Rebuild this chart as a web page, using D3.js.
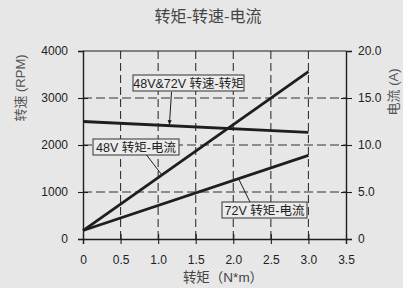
<!DOCTYPE html>
<html>
<head>
<meta charset="utf-8">
<script src="https://cdn.jsdelivr.net/npm/d3@7"></script>
<style>
  body { margin: 0; background: #e7e7e8; }
  svg { display: block; }
  text { font-family: "Liberation Sans", Arial, sans-serif; }
  .cjk { font-family: "Noto Sans CJK SC", sans-serif; }
</style>
</head>
<body>
<div id="chart"></div>
<script>
// data
var torque = [0, 3.0];
var speed = [2500, 2270];          // rpm, 48V & 72V
var current48 = [0.9, 17.8];       // A
var current72 = [0.9, 8.9];        // A

var xTicks = [0, 0.5, 1.0, 1.5, 2.0, 2.5, 3.0, 3.5];
var xTickLabels = ["0", "0.5", "1.0", "1.5", "2.0", "2.5", "3.0", "3.5"];
var speedTicks = [0, 1000, 2000, 3000, 4000];
var currentTicks = [0, 5, 10, 15, 20];
var currentTickLabels = ["0", "5.0", "10.0", "15.0", "20.0"];

var svgWidth = 403;
var svgHeight = 288;

var margin = { top: 51, bottom: 49, left: 83, right: 57 };
var width = svgWidth - margin.left - margin.right;
var height = svgHeight - margin.top - margin.bottom;

var svg = d3.select("#chart")
    .append("svg")
    .attr("width", svgWidth)
    .attr("height", svgHeight);

var g = svg.append("g")
    .attr("transform", `translate(${margin.left}, ${margin.top})`);

// scales
var x = d3.scaleLinear().domain([0, 3.5]).range([0, width]);
var yL = d3.scaleLinear().domain([0, 4000]).range([height, 0]);
var yR = d3.scaleLinear().domain([0, 20]).range([height, 0]);

var ink = "#1e1e1e";

// dashed grid
g.selectAll(".vgrid")
    .data(xTicks.slice(1, -1))
    .enter().append("line")
    .attr("x1", d => x(d)).attr("x2", d => x(d))
    .attr("y1", 0).attr("y2", height)
    .attr("stroke", "#333").attr("stroke-width", 1.1)
    .attr("stroke-dasharray", "8,4");

g.selectAll(".hgrid")
    .data(speedTicks.slice(1, -1))
    .enter().append("line")
    .attr("x1", 0).attr("x2", width)
    .attr("y1", d => yL(d)).attr("y2", d => yL(d))
    .attr("stroke", "#333").attr("stroke-width", 1.1)
    .attr("stroke-dasharray", "9,4");

// top border
g.append("line")
    .attr("x1", 0).attr("x2", width)
    .attr("y1", 0).attr("y2", 0)
    .attr("stroke", ink).attr("stroke-width", 1.2);

// axes
function styleAxis(sel, side) {
    sel.select(".domain").attr("stroke", ink).attr("stroke-width", 1.4);
    sel.selectAll(".tick line").attr("stroke", ink).attr("stroke-width", 1.1);
    sel.selectAll(".tick text")
        .attr("fill", "#222")
        .style("font-size", "12px")
        .style("font-family", "'Liberation Sans', Arial, sans-serif");
}

var xAxis = d3.axisBottom(x)
    .tickValues(xTicks)
    .tickFormat((d, i) => xTickLabels[i])
    .tickSizeOuter(0)
    .tickSize(5)
    .tickPadding(9);

var gx = g.append("g")
    .attr("transform", `translate(0, ${height})`)
    .call(xAxis);
gx.selectAll(".tick line").attr("y1", -5);
gx.selectAll(".tick text").attr("dy", "0.9em");
styleAxis(gx);

var yAxisL = d3.axisLeft(yL)
    .tickValues(speedTicks)
    .tickFormat(d3.format("d"))
    .tickSizeOuter(0)
    .tickSize(5)
    .tickPadding(10);

var gyl = g.append("g").call(yAxisL);
gyl.selectAll(".tick line").attr("x2", (d) => d === 4000 ? 0 : 5).attr("x1", -5);
styleAxis(gyl);

var yAxisR = d3.axisRight(yR)
    .tickValues(currentTicks)
    .tickFormat((d, i) => currentTickLabels[i])
    .tickSizeOuter(0)
    .tickSize(6)
    .tickPadding(6);

var gyr = g.append("g")
    .attr("transform", `translate(${width}, 0)`)
    .call(yAxisR);
gyr.selectAll(".tick line").attr("x1", (d) => d === 20 ? 0 : -5);
styleAxis(gyr);

// curves
var speedLine = d3.line()
    .x((d, i) => x(torque[i]))
    .y(d => yL(d));

var currentLine = d3.line()
    .x((d, i) => x(torque[i]))
    .y(d => yR(d));

g.append("path").datum(speed)
    .attr("d", speedLine)
    .attr("fill", "none").attr("stroke", ink).attr("stroke-width", 2.8);

g.append("path").datum(current48)
    .attr("d", currentLine)
    .attr("fill", "none").attr("stroke", ink).attr("stroke-width", 2.8);

g.append("path").datum(current72)
    .attr("d", currentLine)
    .attr("fill", "none").attr("stroke", ink).attr("stroke-width", 2.8);

// arrow marker
svg.append("defs").append("marker")
    .attr("id", "arrow")
    .attr("viewBox", "0 0 10 10")
    .attr("refX", 9).attr("refY", 5)
    .attr("markerWidth", 5).attr("markerHeight", 5)
    .attr("orient", "auto")
    .append("path")
    .attr("d", "M0,1 L10,5 L0,9 z")
    .attr("fill", ink);

// value on a two-point series at torque t
function at(series, t) {
    return series[0] + (series[1] - series[0]) * (t - torque[0]) / (torque[1] - torque[0]);
}

// annotation boxes: [label, box left, box top, box width, leader start, leader torque, which series]
var notes = [
    { text: "48V&72V 转速-转矩", bx: 133, by: 75, bw: 111, sx: 171.5, sy: 92, t: 1.15, yv: yL(at(speed, 1.15)) + margin.top, arrow: true },
    { text: "48V 转矩-电流", bx: 93, by: 139, bw: 86, sx: 145, sy: 153, t: 1.05, yv: yR(at(current48, 1.05)) + margin.top, arrow: false },
    { text: "72V 转矩-电流", bx: 222, by: 202, bw: 85, sx: 250, sy: 202, t: 2.07, yv: yR(at(current72, 2.07)) + margin.top, arrow: false }
];

notes.forEach(function(n) {
    svg.append("line")
        .attr("x1", n.sx).attr("y1", n.sy)
        .attr("x2", x(n.t) + margin.left).attr("y2", n.yv + (n.arrow ? -1 : 0))
        .attr("stroke", ink).attr("stroke-width", 1)
        .attr("marker-end", n.arrow ? "url(#arrow)" : null);

    svg.append("rect")
        .attr("x", n.bx).attr("y", n.by)
        .attr("width", n.bw).attr("height", 16)
        .attr("fill", "#ececec")
        .attr("stroke", "#333").attr("stroke-width", 1);

    svg.append("text")
        .attr("x", n.bx + n.bw / 2).attr("y", n.by + 12.5)
        .attr("text-anchor", "middle")
        .attr("fill", "#222")
        .style("font-size", "12.5px")
        .style("font-family", "'Liberation Sans', 'Noto Sans CJK SC', sans-serif")
        .text(n.text);
});

// title and axis titles
svg.append("text")
    .attr("class", "cjk")
    .attr("x", 208).attr("y", 22)
    .attr("text-anchor", "middle")
    .attr("fill", "#444")
    .style("font-size", "16px")
    .text("转矩-转速-电流");

svg.append("text")
    .attr("x", 223).attr("y", 282)
    .attr("text-anchor", "middle")
    .attr("fill", "#444")
    .style("font-size", "13.5px")
    .style("font-family", "'Liberation Sans', 'Noto Sans CJK SC', sans-serif")
    .text("转矩（N*m）");

svg.append("text")
    .attr("transform", "translate(25, 88) rotate(-90)")
    .attr("text-anchor", "middle")
    .attr("fill", "#555")
    .style("font-size", "13px")
    .style("font-family", "'Liberation Sans', 'Noto Sans CJK SC', sans-serif")
    .text("转速 (RPM)");

svg.append("text")
    .attr("transform", "translate(398, 92) rotate(-90)")
    .attr("text-anchor", "middle")
    .attr("fill", "#555")
    .style("font-size", "13px")
    .style("font-family", "'Liberation Sans', 'Noto Sans CJK SC', sans-serif")
    .text("电流 (A)");
</script>
</body>
</html>
